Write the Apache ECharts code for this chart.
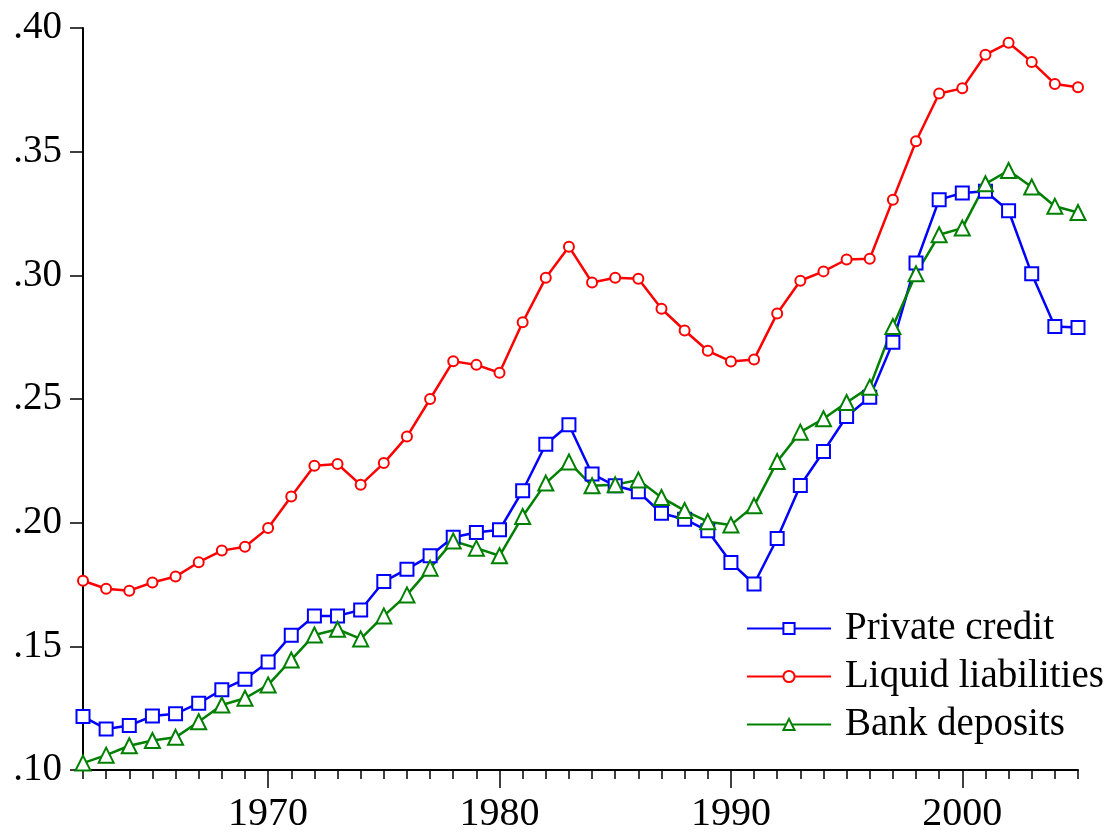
<!DOCTYPE html>
<html>
<head>
<meta charset="utf-8">
<script src="https://cdn.jsdelivr.net/npm/echarts@6/dist/echarts.min.js"></script>
<style>
  html, body { margin: 0; padding: 0; background: #fff; }
  #chart { width: 1106px; height: 835px; }
</style>
</head>
<body>
<div id="chart"></div>
<script>
const years = [];
for (let y = 1962; y <= 2005; y++) years.push(y);

const privateCredit = [
  0.1216, 0.1166, 0.1180, 0.1218, 0.1227, 0.1270, 0.1324, 0.1367, 0.1437, 0.1545,
  0.1623, 0.1623, 0.1647, 0.1762, 0.1812, 0.1866, 0.1941, 0.1960, 0.1971, 0.2129,
  0.2317, 0.2396, 0.2197, 0.2149, 0.2125, 0.2038, 0.2014, 0.1967, 0.1839, 0.1752,
  0.1936, 0.2150, 0.2288, 0.2429, 0.2507, 0.2729, 0.3050, 0.3306, 0.3333, 0.3340,
  0.3261, 0.3006, 0.2793, 0.2789
];
const liquidLiabilities = [
  0.1765, 0.1733, 0.1725, 0.1758, 0.1782, 0.1840, 0.1887, 0.1903, 0.1978, 0.2106,
  0.2230, 0.2237, 0.2153, 0.2241, 0.2348, 0.2500, 0.2653, 0.2638, 0.2606, 0.2810,
  0.2990, 0.3116, 0.2971, 0.2990, 0.2986, 0.2865, 0.2777, 0.2695, 0.2652, 0.2660,
  0.2846, 0.2978, 0.3016, 0.3064, 0.3067, 0.3306, 0.3542, 0.3735, 0.3756, 0.3892,
  0.3940, 0.3863, 0.3774, 0.3760
];
const bankDeposits = [
  0.1028, 0.1060, 0.1098, 0.1119, 0.1132, 0.1195, 0.1263, 0.1290, 0.1344, 0.1445,
  0.1546, 0.1569, 0.1530, 0.1623, 0.1708, 0.1816, 0.1926, 0.1897, 0.1866, 0.2025,
  0.2160, 0.2245, 0.2149, 0.2153, 0.2173, 0.2102, 0.2049, 0.2004, 0.1991, 0.2068,
  0.2247, 0.2366, 0.2420, 0.2486, 0.2548, 0.2793, 0.3006, 0.3164, 0.3191, 0.3370,
  0.3424, 0.3357, 0.3279, 0.3254
];
const decadeTicks = [1970, 1980, 1990, 2000];

const FONT = 'Liberation Serif';

function pairs(vals) {
  return years.map((y, i) => [y, vals[i]]);
}

function lineSeries(name, vals, color, symbol, size) {
  return {
    name: name,
    type: 'line',
    xAxisIndex: 0,
    data: pairs(vals),
    symbol: symbol,
    symbolSize: size,
    showAllSymbol: true,
    lineStyle: { color: color, width: 2.5 },
    itemStyle: { color: '#fff', borderColor: color, borderWidth: 2 },
    emphasis: { disabled: true },
    animation: false
  };
}

const chart = echarts.init(document.getElementById('chart'));

chart.setOption({
  animation: false,
  backgroundColor: '#fff',
  grid: { left: 83, right: 28, top: 28, bottom: 65 },
  xAxis: [
    {
      type: 'value', min: 1962, max: 2005, position: 'bottom',
      splitLine: { show: false },
      axisLine: { lineStyle: { color: '#000', width: 2 } },
      axisTick: { customValues: years, length: 9, lineStyle: { color: '#000', width: 1.5 } },
      axisLabel: { show: false }
    },
    {
      type: 'value', min: 1962, max: 2005, position: 'bottom',
      splitLine: { show: false },
      axisLine: { show: false },
      axisTick: { customValues: decadeTicks, length: 18, lineStyle: { color: '#000', width: 1.5 } },
      axisLabel: {
        customValues: decadeTicks, margin: 24,
        fontFamily: FONT, fontSize: 40, color: '#000',
        formatter: v => String(v)
      }
    }
  ],
  yAxis: {
    type: 'value', min: 0.10, max: 0.40, interval: 0.05,
    splitLine: { show: false },
    axisLine: { show: true, lineStyle: { color: '#000', width: 2 } },
    axisTick: { show: true, length: 13, lineStyle: { color: '#000', width: 1.5 } },
    axisLabel: {
      margin: 21, fontFamily: FONT, fontSize: 39, color: '#000',
      formatter: v => v.toFixed(2).replace(/^0/, '')
    }
  },
  legend: {
    orient: 'vertical',
    left: 741, top: 603,
    itemWidth: 84, itemHeight: 14, itemGap: 7,
    textStyle: { fontFamily: FONT, fontSize: 39, color: '#000', lineHeight: 41, padding: [0, 0, 0, 9] },
    data: ['Private credit', 'Liquid liabilities', 'Bank deposits']
  },
  series: [
    lineSeries('Private credit', privateCredit, '#0000ff', 'rect', 13),
    lineSeries('Liquid liabilities', liquidLiabilities, '#ff0000', 'circle', 10),
    lineSeries('Bank deposits', bankDeposits, '#008000', 'triangle', 15)
  ]
});
</script>
</body>
</html>
